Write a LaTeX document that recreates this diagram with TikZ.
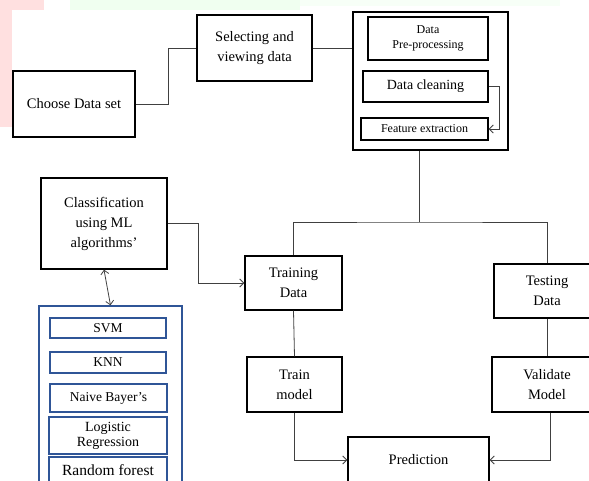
\documentclass[tikz,border=0pt]{standalone}
\usepackage{fontspec}
\setmainfont{Liberation Serif}
\usepackage{tikz}
\usetikzlibrary{arrows.meta, positioning}

\definecolor{algoblue}{RGB}{47,85,151}

\begin{document}
\begin{tikzpicture}[
    x=1pt, y=-1pt,
    >={Straight Barb[length=4pt, width=8pt]},
    every node/.style={font=\fontsize{14.5}{20}\selectfont, inner sep=0pt, align=center},
    block/.style={rectangle, draw=black, line width=1.4pt},
    algo/.style={rectangle, draw=algoblue, line width=1.4pt},
    arrow/.style={->, line width=0.8pt, color=black!75},
    link/.style={line width=0.8pt, color=black!75},
]
\useasboundingbox (0,0) rectangle (589,481);
\clip (0,0) rectangle (589,481);

% --- faint background marks ---
\fill[red!12] (0,0) rectangle (44,10);
\fill[red!12] (0,10) rectangle (12,127);
\fill[green!6] (70,0) rectangle (300,10);
\fill[green!3] (300,0) rectangle (560,6);

% --- Data preparation ---
\node[block, minimum width=122pt, minimum height=66pt] (choose) at (74,104) {Choose Data set};
\node[block, minimum width=115pt, minimum height=66pt] (select) at (254.5,48) {Selecting and\\viewing data};
\node[block, minimum width=155pt, minimum height=138pt] (prep) at (430.5,81) {};
\node[block, minimum width=120pt, minimum height=43pt, font=\fontsize{12}{15}\selectfont] (preproc) at (428,38.5) {Data\\Pre-processing};
\node[block, minimum width=125pt, minimum height=31pt, font=\fontsize{14}{17}\selectfont] (clean) at (425.5,86.5) {Data cleaning};
\node[block, minimum width=127pt, minimum height=22pt, font=\fontsize{12}{15}\selectfont] (feature) at (424.5,129) {Feature extraction};

% --- Classification ---
\node[block, minimum width=126pt, minimum height=91pt] (classify) at (104,223.5) {Classification\\using ML\\algorithms’};
\node[algo, minimum width=143pt, minimum height=194pt] (algos) at (110.5,403) {};
\node[algo, minimum width=116pt, minimum height=20pt, font=\fontsize{13.5}{16}\selectfont] (svm) at (108,328) {SVM};
\node[algo, minimum width=116pt, minimum height=21pt, font=\fontsize{13.5}{16}\selectfont] (knn) at (108,362.5) {KNN};
\node[algo, minimum width=117pt, minimum height=28pt, font=\fontsize{13.5}{16}\selectfont] (bayes) at (108.5,398) {Naive Bayer’s};
\node[algo, minimum width=118pt, minimum height=37pt, font=\fontsize{14}{15}\selectfont] (logreg) at (108,435.5) {Logistic\\Regression};
\node[algo, minimum width=118pt, minimum height=26pt, font=\fontsize{15.5}{18}\selectfont] (forest) at (108,470) {Random forest};

% --- Training and testing ---
\node[block, minimum width=97pt, minimum height=54pt] (train) at (293.5,283) {Training\\Data};
\node[block, minimum width=106pt, minimum height=54pt] (test) at (547,291) {Testing\\Data};
\node[block, minimum width=95pt, minimum height=55pt] (model) at (294.5,384.5) {Train\\model};
\node[block, minimum width=110pt, minimum height=55pt] (validate) at (547,384.5) {Validate\\Model};
\node[block, minimum width=141pt, minimum height=46pt] (predict) at (418.5,460) {Prediction};

\coordinate (split) at (419,222);

% --- Connectors ---
\draw[link] (choose.east) -- ++(33,0) |- (select.west);
\draw[link] (select.east) -- (select.east -| prep.west);
\draw[arrow] (clean.east) -- ++(11,0) |- (feature.east);
\draw[link] (split |- prep.south) -- (split);
\draw[link] (train.north) |- (split) -| (test.north);
\draw[arrow] (classify.east) -- ++(31,0) |- (train.west);
\draw[<->, line width=0.8pt, color=black!75] (classify.south) -- (algos.north);
\draw[link] (train.south) -- (model.north);
\draw[link] (test.south) -- (validate.north);
\draw[arrow] (model.south) |- (predict.west);
\draw[arrow] ([xshift=3pt]validate.south) |- (predict.east);

\end{tikzpicture}
\end{document}
